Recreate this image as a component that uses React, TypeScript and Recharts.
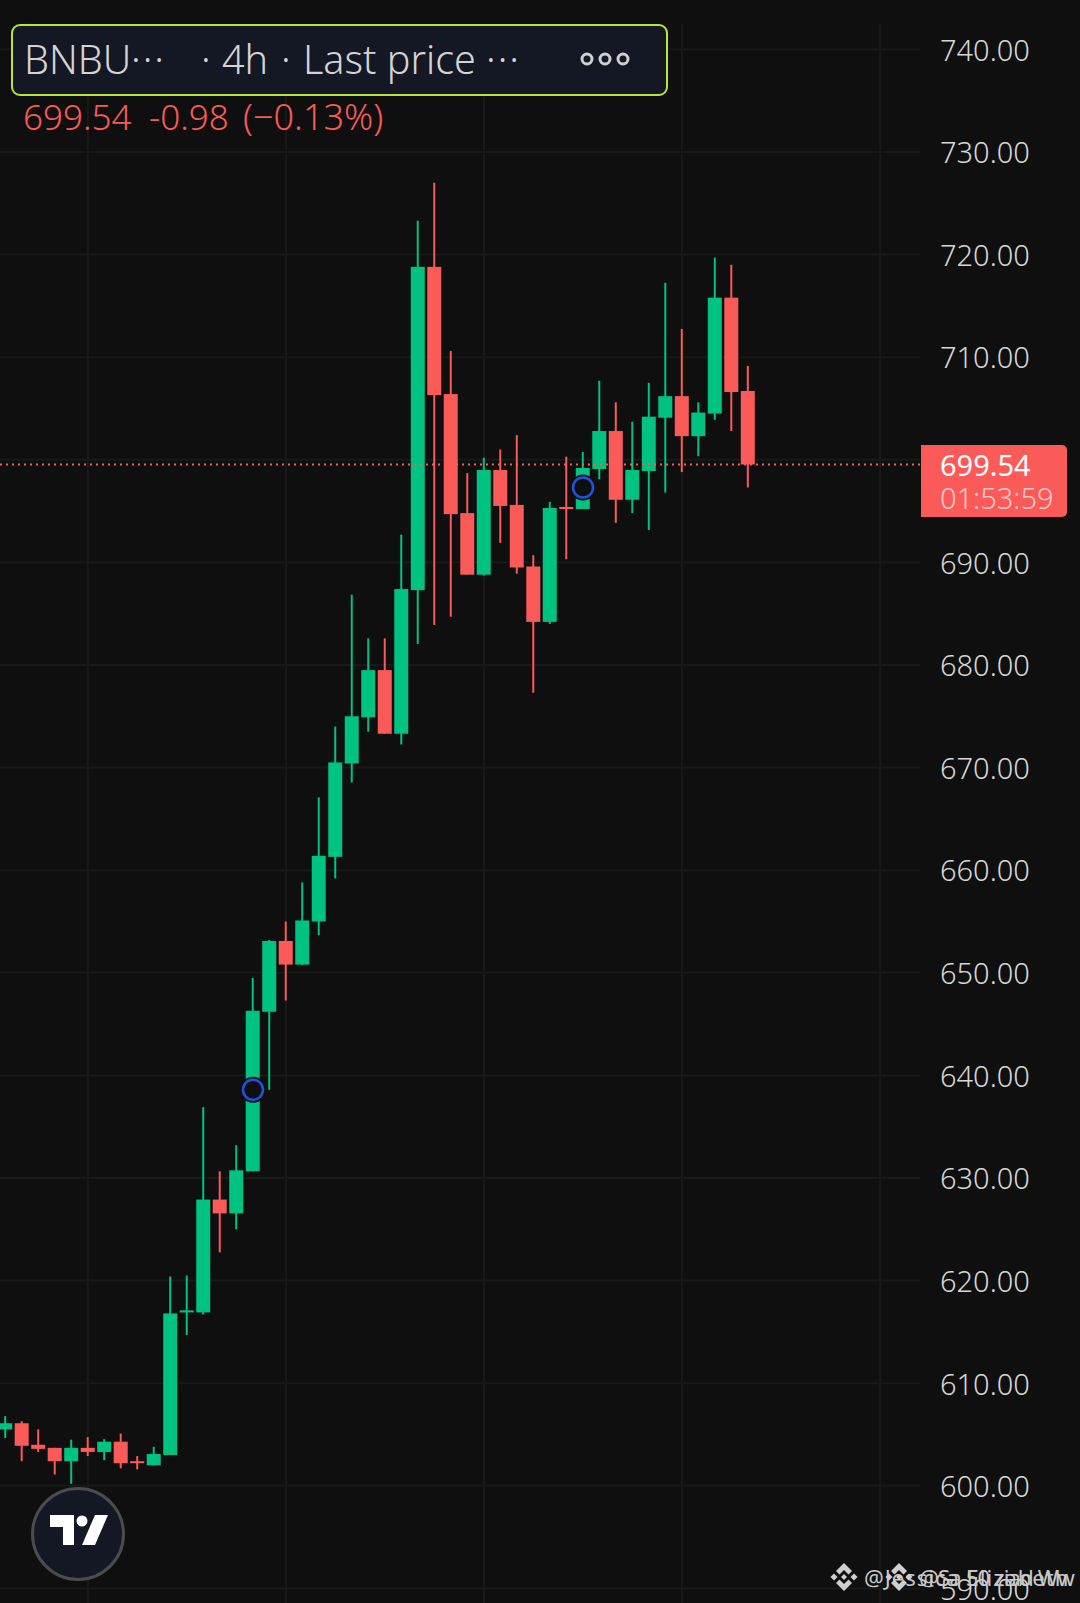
import React from 'react';
import { ComposedChart, Bar, XAxis, YAxis, CartesianGrid, ReferenceLine, ReferenceDot } from 'recharts';

const opens = [605.5, 606.1, 604.0, 603.7, 602.4, 603.7, 603.3, 604.3, 602.4, 602.0, 603.0, 616.9, 616.9, 627.9, 626.55, 630.65, 646.2, 653.1, 650.8, 655.0, 661.3, 670.4, 674.9, 679.5, 673.3, 687.3, 718.8, 706.4, 694.8, 688.8, 699.0, 695.6, 689.6, 684.2, 695.4, 695.2, 699.1, 702.8, 696.1, 698.9, 704.1, 706.2, 702.3, 704.5, 715.8, 706.7];
const closes = [606.1, 603.9, 603.6, 602.4, 603.7, 603.3, 604.3, 602.2, 602.2, 603.1, 616.8, 617.1, 627.9, 626.55, 630.75, 646.3, 653.1, 650.8, 655.1, 661.4, 670.5, 675.0, 679.5, 673.3, 687.4, 718.8, 706.3, 694.7, 688.8, 699.0, 695.5, 689.5, 684.2, 695.3, 695.2, 699.2, 702.8, 696.1, 699.0, 704.2, 706.2, 702.3, 704.6, 715.8, 706.6, 699.54];
const highs = [606.8, 606.3, 605.5, 603.7, 604.5, 604.75, 604.55, 605.1, 602.9, 603.8, 620.4, 620.5, 636.9, 630.65, 633.2, 649.5, 653.2, 655.0, 658.8, 667.1, 674.0, 686.85, 682.6, 682.6, 692.7, 723.3, 727.0, 710.6, 698.7, 700.2, 701.0, 702.4, 690.7, 695.9, 700.3, 700.75, 707.7, 705.6, 703.7, 707.5, 717.25, 712.75, 705.6, 719.7, 719.0, 709.15];
const lows = [604.65, 602.4, 603.3, 601.1, 600.2, 602.9, 602.5, 601.7, 601.6, 602.0, 603.0, 614.7, 616.7, 622.75, 625.0, 630.65, 638.6, 647.3, 650.75, 653.65, 659.2, 668.55, 673.5, 673.3, 672.25, 682.05, 683.9, 684.7, 688.8, 688.7, 691.9, 688.9, 677.3, 684.0, 690.3, 695.2, 698.1, 693.85, 694.8, 693.15, 696.8, 698.8, 700.35, 703.9, 702.8, 697.3];

const priceTicks = [590, 600, 610, 620, 630, 640, 650, 660, 670, 680, 690, 700, 710, 720, 730, 740];
const timeTicks = [5, 17, 29, 41, 53];
const lastPrice = 699.54;
const markers = [{ index: 15, price: 638.6 }, { index: 35, price: 697.3 }];

const UP = '#00c281';
const DOWN = '#fa5a58';
const BG = '#0f0f0f';
const GRID = '#191919';
const FONT = '"Noto Sans", sans-serif';
const X_DOMAIN = [-0.33, 55.42];

const candles = opens.map((open, i) => ({ index: i, open, close: closes[i], high: highs[i], low: lows[i] }));

const Candle = ({ x, y, width, height, payload }: any) => {
  const { open, close, high, low } = payload;
  const perUnit = height / (high - low);
  const top = y + (high - Math.max(open, close)) * perUnit;
  const bodyHeight = Math.max(Math.abs(open - close) * perUnit, 2);
  const color = close >= open ? UP : DOWN;
  return (
    <g>
      <rect x={x + width / 2 - 1} y={y} width={2} height={height} fill={color} />
      <rect x={x} y={top} width={width} height={bodyHeight} fill={color} />
    </g>
  );
};

const Watermark = ({ left, text, spacing }: { left: number; text: string; spacing: number }) => (
  <div style={{ position: 'absolute', left, top: 1562, height: 30, display: 'flex', alignItems: 'center', color: '#c8c8c8', fontFamily: FONT, fontSize: 22, letterSpacing: spacing, whiteSpace: 'nowrap' }}>
    <svg width={28} height={28} viewBox="0 0 28 28" style={{ marginRight: 6 }}>
      <g fill="#cfcfcf">
        <path d="M14 0 L22 8 L18.5 11.5 L14 7 L9.5 11.5 L6 8 Z" />
        <path d="M14 28 L22 20 L18.5 16.5 L14 21 L9.5 16.5 L6 20 Z" />
        <path d="M4 10.5 L7.5 14 L4 17.5 L0.5 14 Z" />
        <path d="M24 10.5 L27.5 14 L24 17.5 L20.5 14 Z" />
        <path d="M14 11 L17 14 L14 17 L11 14 Z" />
      </g>
    </svg>
    {text}
  </div>
);

// the grid's xAxis has no usable scale here, so place the time lines from the plot offset
const timeGridLines = ({ offset }: any) =>
  timeTicks.map((t) => offset.left + ((t - X_DOMAIN[0]) / (X_DOMAIN[1] - X_DOMAIN[0])) * offset.width);

export default function App() {
  return (
    <div style={{ position: 'absolute', left: 0, top: 0, width: 1080, height: 1603, background: BG, overflow: 'hidden' }}>
      <ComposedChart width={1080} height={1603} data={candles} margin={{ top: 24, right: 0, bottom: 0, left: 0 }}>
        <CartesianGrid stroke={GRID} strokeWidth={2} horizontalValues={priceTicks} verticalCoordinatesGenerator={timeGridLines} />
        <XAxis dataKey="index" type="number" domain={X_DOMAIN} allowDataOverflow ticks={timeTicks} height={0} tick={false} tickLine={false} axisLine={false} />
        <YAxis
          orientation="right"
          width={160}
          domain={[588.58, 742.47]}
          allowDataOverflow
          ticks={priceTicks}
          interval={0}
          tickFormatter={(v: number) => v.toFixed(2)}
          tick={{ fill: '#d6d6d6', fontSize: 29, fontWeight: 300, fontFamily: FONT, dy: 1 }}
          tickLine={false}
          axisLine={false}
          tickMargin={14}
        />
        <Bar dataKey={(d: any) => [d.low, d.high]} barSize={14} shape={<Candle />} isAnimationActive={false} />
        <ReferenceLine y={lastPrice} stroke={DOWN} strokeWidth={2} strokeDasharray="2 4" />
        {markers.map((m) => (
          <React.Fragment key={m.index}>
            <ReferenceDot x={m.index} y={m.price} r={13} fill={BG} stroke="none" />
            <ReferenceDot x={m.index} y={m.price} r={10} fill={BG} stroke="#1f52e0" strokeWidth={2.5} />
          </React.Fragment>
        ))}
      </ComposedChart>

      {/* header pill */}
      <div style={{ position: 'absolute', left: 11, top: 24, width: 657, height: 72, boxSizing: 'border-box', border: '2px solid #b5e835', borderRadius: 9, background: '#141824', color: '#d4d4d4', fontFamily: FONT, fontWeight: 300, fontSize: 39.5, lineHeight: '66px', whiteSpace: 'pre' }}>
        <span style={{ position: 'absolute', left: 11 }}>BNBU</span>
        <span style={{ position: 'absolute', left: 118, letterSpacing: 2 }}>···</span>
        <span style={{ position: 'absolute', left: 188 }}>·</span>
        <span style={{ position: 'absolute', left: 209 }}>4h</span>
        <span style={{ position: 'absolute', left: 268 }}>·</span>
        <span style={{ position: 'absolute', left: 290 }}>Last price</span>
        <span style={{ position: 'absolute', left: 473, letterSpacing: 2 }}>···</span>
        <svg style={{ position: 'absolute', left: 565, top: 22 }} width={56} height={22}>
          <g fill="none" stroke="#d0d0d0" strokeWidth={3}>
            <circle cx={9} cy={11} r={5} />
            <circle cx={27} cy={11} r={5} />
            <circle cx={45} cy={11} r={5} />
          </g>
        </svg>
      </div>
      <div style={{ position: 'absolute', left: 23, top: 94, color: DOWN, fontFamily: FONT, fontWeight: 300, fontSize: 35, lineHeight: '46px', whiteSpace: 'pre' }}>
        699.54
        <span style={{ position: 'absolute', left: 126 }}>-0.98</span>
        <span style={{ position: 'absolute', left: 220, fontSize: 36 }}>(−0.13%)</span>
      </div>

      {/* last price tag */}
      <div style={{ position: 'absolute', left: 921, top: 445, width: 146, height: 72, background: DOWN, borderRadius: '0 5px 5px 0', fontFamily: FONT, fontWeight: 300, fontSize: 29 }}>
        <div style={{ position: 'absolute', left: 19, top: 1, color: '#ffffff', lineHeight: '38px', fontWeight: 400 }}>699.54</div>
        <div style={{ position: 'absolute', left: 19, top: 34, color: '#ffc9c9', lineHeight: '38px' }}>01:53:59</div>
      </div>

      {/* tradingview badge */}
      <svg style={{ position: 'absolute', left: 30, top: 1486 }} width={96} height={96} viewBox="0 0 96 96">
        <circle cx={48} cy={48} r={45.5} fill="#141824" stroke="#4b4b50" strokeWidth={3} />
        <path d="M20 29 H44 V59 H33 V41 H20 Z" fill="#fff" />
        <circle cx={52} cy={35} r={5.5} fill="#fff" />
        <path d="M65 29 H78 L65 59 H52 Z" fill="#fff" />
      </svg>

      <Watermark left={830} text="@Jessica Elizabeth" spacing={1} />
      <Watermark left={885} text="@Sa 50 ziad Ww" spacing={-0.8} />
    </div>
  );
}
